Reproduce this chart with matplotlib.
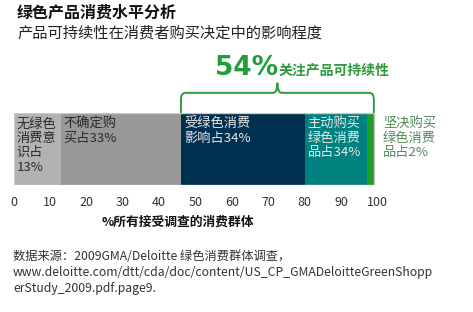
import matplotlib
matplotlib.use("Agg")
import matplotlib.pyplot as plt
from matplotlib.path import Path
from matplotlib.patches import PathPatch

plt.rcParams['font.family'] = ['Noto Sans CJK SC', 'DejaVu Sans']

# Data
segments = ["无绿色\n消费意\n识占\n13%", "不确定购\n买占33%", "受绿色消费\n影响占34%", "主动购买\n绿色消费\n品占34%", ""]
values = [13, 33, 34, 17, 2]
colors = ["#b3b1b1", "#999797", "#00304f", "#00807e", "#1f9e2a"]
text_colors = ["#2a2a2a", "#2a2a2a", "#e8e8e8", "#e8e8e8", "#ffffff"]
ticks = [0, 10, 20, 30, 40, 50, 60, 70, 80, 90, 100]
right_label = "坚决购买\n绿色消费\n品占2%"
brace_value = "54%"
brace_text = "关注产品可持续性"
title = "绿色产品消费水平分析"
subtitle = "产品可持续性在消费者购买决定中的影响程度"
xlabel = "%所有接受调查的消费群体"
source = ("数据来源：2009GMA/Deloitte 绿色消费群体调查，\n"
          "www.deloitte.com/dtt/cda/doc/content/US_CP_GMADeloitteGreenShopp\n"
          "erStudy_2009.pdf.page9.")

W, H = 473, 312
fig = plt.figure(figsize=(W / 100, H / 100), dpi=100)

def fx(px):
    return px / W

def fy(py):
    return 1 - py / H

x0, x100 = 13.5, 377.5
ytop, ybot = 113, 185
ax = fig.add_axes([fx(x0), fy(ybot), fx(x100) - fx(x0), (ybot - ytop) / H])
ax.set_xlim(0, 100)
ax.set_ylim(0, 1)

left = 0
for v, c, lab, tc in zip(values, colors, segments, text_colors):
    ax.barh(0.5, v, left=left, height=1, color=c, edgecolor="none")
    if lab:
        ax.text(left + 0.8, 0.94, lab, color=tc, fontsize=9.5, va="top", ha="left",
                linespacing=1.14)
    left += v
total = left
# outline
ax.barh(0.5, total, left=0, height=1, color="none", edgecolor="#c8c8c8", linewidth=1)

ax.text(total + 2.5, 0.94, right_label, color="#4f8a55", fontsize=9.5, va="top",
        ha="left", linespacing=1.14)

# Brace over 46..99
b0 = values[0] + values[1]
b1 = total
mid = (b0 + b1) / 2
yb, yh, yc = 1.0, 1.28, 1.42
r = 1.2
verts = [(b0, yb), (b0, yh - 0.1), (b0, yh), (b0 + r, yh),
         (mid - r, yh), (mid, yh), (mid, yc),
         (mid, yh), (mid + r, yh),
         (b1 - r, yh), (b1, yh), (b1, yh - 0.1), (b1, yb)]
codes = [Path.MOVETO, Path.LINETO, Path.CURVE3, Path.CURVE3,
         Path.LINETO, Path.CURVE3, Path.CURVE3,
         Path.CURVE3, Path.CURVE3,
         Path.LINETO, Path.CURVE3, Path.CURVE3, Path.LINETO]
ax.add_patch(PathPatch(Path(verts, codes), fill=False, edgecolor="#2f9a3c",
                       linewidth=1.4, clip_on=False))

ax.text(mid + 0.3, 1.53, brace_value, color="#1f9e3a", fontsize=19, fontweight="bold",
        ha="right", va="baseline", family=["DejaVu Sans"])
ax.text(mid + 0.3, 1.53, brace_text, color="#2f9a3c", fontsize=10, ha="left",
        va="baseline", fontweight="bold")

ax.set_xticks(ticks)
ax.set_xticklabels([str(t) for t in ticks], fontsize=9, color="#333333")
ax.tick_params(axis="x", length=0, pad=8)
ax.set_yticks([])
for s in ax.spines.values():
    s.set_visible(False)

fig.text(fx(178), fy(222), xlabel, fontsize=9.2, fontweight="bold", ha="center",
         va="center", color="#111111")

fig.text(fx(17), fy(13), title, fontsize=11.5, fontweight="bold", ha="left",
         va="center", color="#111111")
fig.text(fx(17), fy(33), subtitle, fontsize=11, ha="left", va="center", color="#222222")

fig.text(fx(13), fy(250), source, fontsize=8.8, ha="left", va="top", color="#333333",
         linespacing=1.3)

fig.savefig("out.png", dpi=100, facecolor="white")
